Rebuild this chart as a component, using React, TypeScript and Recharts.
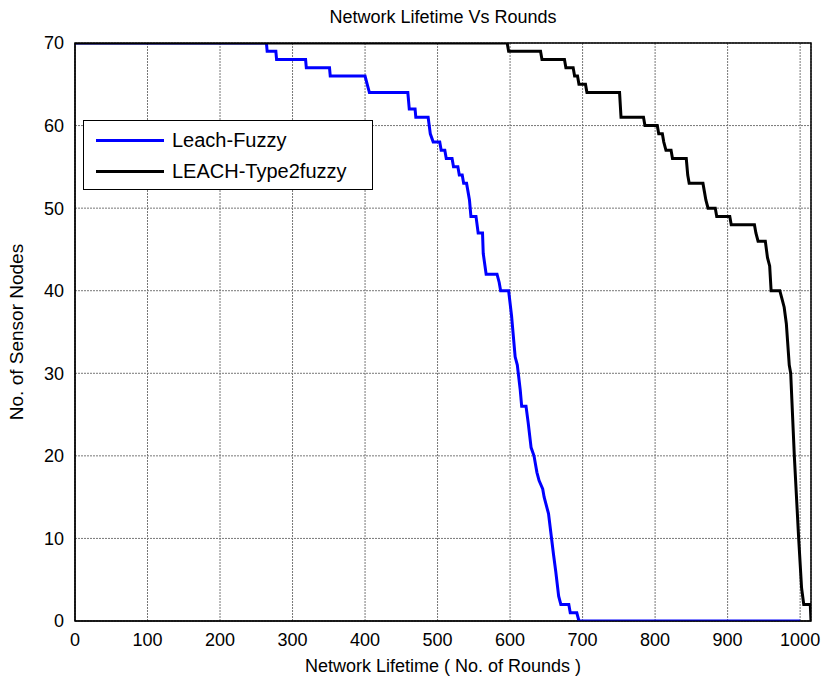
import React from "react";
import {
  LineChart,
  Line,
  XAxis,
  YAxis,
  CartesianGrid,
  ReferenceArea,
  Label,
} from "recharts";

// values (round, alive nodes)
const FUZZY_ROUNDS = [
  0, 264, 265, 277, 278, 318, 319, 351, 352, 400, 403, 406, 459, 461, 469, 470,
  487, 490, 494, 503, 505, 510, 512, 520, 522, 528, 530, 534, 536, 540, 542, 544,
  546, 553, 556, 562, 563, 567, 582, 585, 587, 598, 602, 607, 610, 614, 616, 622,
  625, 629, 633, 637, 640, 645, 647, 653, 660, 663, 667, 670, 681, 683, 692, 695,
  1000,
];
const FUZZY_NODES = [
  70, 70, 69, 69, 68, 68, 67, 67, 66, 66, 65, 64, 64, 62, 62, 61,
  61, 59, 58, 58, 57, 57, 56, 56, 55, 55, 54, 54, 53, 53, 52, 51,
  49, 49, 47, 47, 44.5, 42, 42, 41, 40, 40, 37, 32, 31, 28, 26, 26,
  24, 21, 20, 18, 17, 16, 15, 13, 8, 6, 3, 2, 2, 1, 1, 0,
  0,
];

const TYPE2_ROUNDS = [
  0, 596, 598, 642, 644, 675, 677, 687, 689, 693, 695, 704, 706, 751, 753, 784,
  786, 803, 805, 810, 812, 815, 822, 824, 843, 845, 847, 866, 868, 870, 873, 883,
  885, 903, 905, 937, 939, 942, 952, 955, 958, 960, 972, 975, 978, 981, 985, 987,
  992, 998, 1002, 1005, 1014, 1015,
];
const TYPE2_NODES = [
  70, 70, 69, 69, 68, 68, 67, 67, 66, 66, 65, 65, 64, 64, 61, 61,
  60, 60, 59, 59, 58, 57, 57, 56, 56, 54, 53, 53, 52, 51, 50, 50,
  49, 49, 48, 48, 47, 46, 46, 44, 43, 40, 40, 39, 38, 36, 31, 30,
  20, 10, 4, 2, 2, 0,
];

const X_TICKS = [0, 100, 200, 300, 400, 500, 600, 700, 800, 900, 1000];
const Y_TICKS = [0, 10, 20, 30, 40, 50, 60, 70];

const fuzzyData = FUZZY_ROUNDS.map((r, i) => ({ round: r, nodes: FUZZY_NODES[i] }));
const type2Data = TYPE2_ROUNDS.map((r, i) => ({ round: r, nodes: TYPE2_NODES[i] }));

const FONT = "'Liberation Sans', Arial, Helvetica, sans-serif";

export default function App() {
  return (
    <div
      style={{
        position: "absolute",
        left: 0,
        top: 0,
        width: 825,
        height: 682,
        background: "#fff",
        fontFamily: FONT,
      }}
    >
      <LineChart width={825} height={682} margin={{ top: 43, right: 14, bottom: 6, left: 0 }}>
        <CartesianGrid stroke="#777" strokeDasharray="2 1" />
        <XAxis
          type="number"
          dataKey="round"
          domain={[0, 1015]}
          ticks={X_TICKS}
          allowDataOverflow
          height={55}
          tickLine={false}
          axisLine={{ stroke: "#000" }}
          tick={{ fill: "#000", fontSize: 18, fontFamily: FONT }}
          tickMargin={6}
        >
          <Label
            value="Network Lifetime ( No. of Rounds )"
            position="insideBottom"
            offset={4}
            fill="#000"
            fontSize={18}
            fontFamily={FONT}
          />
        </XAxis>
        <YAxis
          type="number"
          domain={[0, 70]}
          ticks={Y_TICKS}
          allowDataOverflow
          width={75}
          tickLine={false}
          axisLine={{ stroke: "#000" }}
          tick={{ fill: "#000", fontSize: 18, fontFamily: FONT }}
          tickMargin={5}
        />
        <ReferenceArea x1={0} x2={1015} y1={0} y2={70} fill="none" fillOpacity={0} stroke="#000" strokeWidth={1.5} />
        <Line
          data={fuzzyData}
          dataKey="nodes"
          type="linear"
          stroke="#0000ff"
          strokeWidth={3}
          dot={false}
          isAnimationActive={false}
        />
        <Line
          data={type2Data}
          dataKey="nodes"
          type="linear"
          stroke="#000"
          strokeWidth={3}
          dot={false}
          isAnimationActive={false}
        />
      </LineChart>

      <div
        style={{
          position: "absolute",
          left: 75,
          width: 736,
          top: 7,
          textAlign: "center",
          fontSize: 18,
          color: "#000",
        }}
      >
        Network Lifetime Vs Rounds
      </div>

      <div
        style={{
          position: "absolute",
          left: 17,
          top: 332,
          transform: "translate(-50%, -50%) rotate(-90deg)",
          whiteSpace: "nowrap",
          fontSize: 19,
          color: "#000",
        }}
      >
        No. of Sensor Nodes
      </div>

      <div
        style={{
          position: "absolute",
          left: 83,
          top: 120,
          width: 288,
          height: 68,
          border: "1px solid #000",
          background: "#fff",
          fontSize: 20,
          color: "#000",
        }}
      >
        {[
          { name: "Leach-Fuzzy", color: "#0000ff" },
          { name: "LEACH-Type2fuzzy", color: "#000" },
        ].map((item, i) => (
          <div
            key={item.name}
            style={{ position: "absolute", left: 12, top: 6 + i * 31, height: 26, display: "flex", alignItems: "center" }}
          >
            <div style={{ width: 68, height: 3, background: item.color }} />
            <span style={{ marginLeft: 8 }}>{item.name}</span>
          </div>
        ))}
      </div>
    </div>
  );
}
